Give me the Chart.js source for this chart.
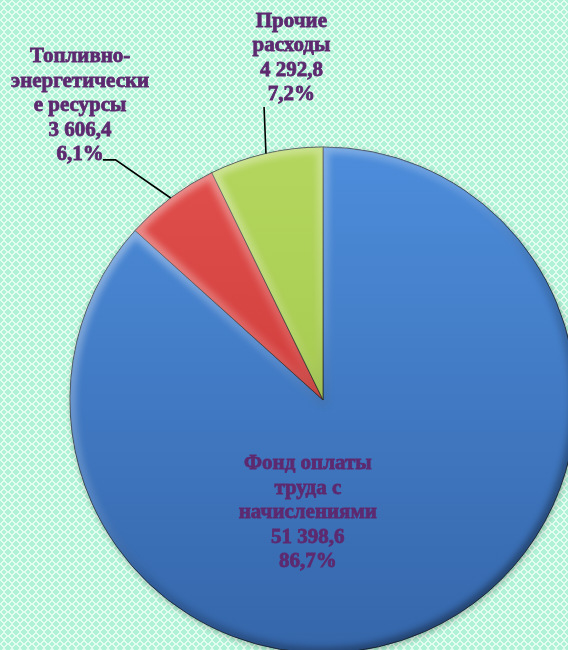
<!DOCTYPE html>
<html lang="ru">
<head>
<meta charset="utf-8">
<title>Структура расходов</title>
<script src="https://cdn.jsdelivr.net/npm/chart.js@4/dist/chart.umd.min.js"></script>
<style>
  html, body { margin: 0; padding: 0; background: #bff5de; }
  #wrap { width: 568px; height: 650px; overflow: hidden; }
</style>
</head>
<body>
<div id="wrap"><canvas id="costs" width="568" height="650"></canvas></div>
<script>
// статьи расходов
const categories = [
    ['Фонд оплаты', 'труда с', 'начислениями'],
    ['Топливно-', 'энергетически', 'е ресурсы'],
    ['Прочие', 'расходы']
];
const values = [51398.6, 3606.4, 4292.8];
const shares = [86.7, 6.1, 7.2];

const sliceColors = [
    ['#4d8ddb', '#3566aa'],
    ['#e2504d', '#c2302f'],
    ['#b4d65e', '#9ac043']
];

// положение подписей в долях радиуса от центра круга
const labelSpots = [
    { text: [-0.06, 0.445] },
    { text: [-0.96, -1.162], leader: [[-0.82, -0.949], [-0.87, -0.949]] },
    { text: [-0.125, -1.352], leader: [[-0.233, -1.158]] }
];

const textColor = '#5d2a70';
const fontFace = 'bold 21px "Liberation Serif", "Times New Roman", serif';
const lineHeight = 24.5;

function fmt(v) {
    const parts = v.toFixed(1).split('.');
    parts[0] = parts[0].replace(/\B(?=(\d{3})+(?!\d))/g, ' ');
    return parts.join(',');
}

// фон в мелкую сетку
function makePattern(ctx) {
    const tile = document.createElement('canvas');
    tile.width = 8;
    tile.height = 8;
    const t = tile.getContext('2d');
    t.fillStyle = '#b0f2d5';
    t.fillRect(0, 0, 8, 8);
    t.fillStyle = '#e2fcef';
    for (let y = 0; y < 8; y++) {
        for (let x = 0; x < 8; x++) {
            const d = Math.abs(x - 3.5) + Math.abs(y - 3.5);
            if (d > 2.5 && d < 4.5) t.fillRect(x, y, 1, 1);
        }
    }
    return ctx.createPattern(tile, 'repeat');
}

const backdrop = {
    id: 'backdrop',
    beforeDraw(chart) {
        const ctx = chart.ctx;
        ctx.save();
        ctx.fillStyle = makePattern(ctx);
        ctx.fillRect(0, 0, chart.width, chart.height);
        ctx.restore();
    },
    beforeDatasetsDraw(chart) {
        const arc = chart.getDatasetMeta(0).data[0];
        if (!arc) return;
        const ctx = chart.ctx;
        ctx.save();
        ctx.shadowColor = 'rgba(0,0,0,0.3)';
        ctx.shadowBlur = 6;
        ctx.shadowOffsetX = 1;
        ctx.shadowOffsetY = 2;
        ctx.fillStyle = '#3a6cb0';
        ctx.beginPath();
        ctx.arc(arc.x, arc.y, arc.outerRadius, 0, Math.PI * 2);
        ctx.fill();
        ctx.restore();
    }
};

// объёмная кромка сегментов
const bevel = {
    id: 'bevel',
    afterDatasetsDraw(chart) {
        const ctx = chart.ctx;
        chart.getDatasetMeta(0).data.forEach(arc => {
            const { x, y, outerRadius: r, startAngle, endAngle } = arc;
            ctx.save();
            ctx.beginPath();
            ctx.moveTo(x, y);
            ctx.arc(x, y, r, startAngle, endAngle);
            ctx.closePath();
            ctx.clip();
            const g = ctx.createLinearGradient(x - r, y - r, x + r * 0.6, y + r);
            g.addColorStop(0, 'rgba(255,255,255,0.5)');
            g.addColorStop(0.45, 'rgba(255,255,255,0.12)');
            g.addColorStop(0.6, 'rgba(0,0,0,0.12)');
            g.addColorStop(1, 'rgba(0,0,0,0.4)');
            ctx.filter = 'blur(3px)';
            ctx.strokeStyle = g;
            ctx.lineWidth = 12;
            ctx.lineJoin = 'round';
            ctx.stroke();
            ctx.restore();
        });
    }
};

const sliceLabels = {
    id: 'sliceLabels',
    afterDraw(chart) {
        const ctx = chart.ctx;
        const meta = chart.getDatasetMeta(0);
        meta.data.forEach((arc, i) => {
            const { x, y, outerRadius: r, startAngle, endAngle } = arc;
            const spot = labelSpots[i];
            ctx.save();
            if (spot.leader) {
                const mid = (startAngle + endAngle) / 2;
                ctx.beginPath();
                ctx.moveTo(x + Math.cos(mid) * r, y + Math.sin(mid) * r);
                spot.leader.forEach(p => ctx.lineTo(x + p[0] * r, y + p[1] * r));
                ctx.strokeStyle = '#000';
                ctx.lineWidth = 1.6;
                ctx.stroke();
            }
            const lines = categories[i].concat([fmt(values[i]), shares[i].toFixed(1).replace('.', ',') + '%']);
            const cx = x + spot.text[0] * r;
            const cy = y + spot.text[1] * r;
            const top = cy - (lines.length - 1) * lineHeight / 2;
            ctx.font = fontFace;
            ctx.fillStyle = textColor;
            ctx.strokeStyle = textColor;
            ctx.lineWidth = 0.8;
            ctx.textAlign = 'center';
            ctx.textBaseline = 'middle';
            lines.forEach((ln, k) => {
                ctx.fillText(ln, cx, top + k * lineHeight);
                ctx.strokeText(ln, cx, top + k * lineHeight);
            });
            ctx.restore();
        });
    }
};

function sliceFill(c) {
    const i = c.dataIndex;
    const area = c.chart.chartArea;
    if (!area) return sliceColors[i][0];
    const cy = (area.top + area.bottom) / 2;
    const g = c.chart.ctx.createLinearGradient(0, cy - 253, 0, cy + 253);
    g.addColorStop(0, sliceColors[i][0]);
    g.addColorStop(1, sliceColors[i][1]);
    return g;
}

new Chart(document.getElementById('costs'), {
    type: 'pie',
    data: {
        labels: categories.map(c => c.join(' ')),
        datasets: [{
            data: values,
            backgroundColor: sliceFill,
            borderColor: 'rgba(30,30,30,0.7)',
            borderWidth: 1,
            radius: 253,
            clip: false
        }]
    },
    options: {
        responsive: false,
        animation: false,
        events: [],
        layout: { padding: { left: 78, top: 150, right: 0, bottom: 0 } },
        plugins: {
            legend: { display: false },
            tooltip: { enabled: false }
        }
    },
    plugins: [backdrop, bevel, sliceLabels]
});
</script>
</body>
</html>
